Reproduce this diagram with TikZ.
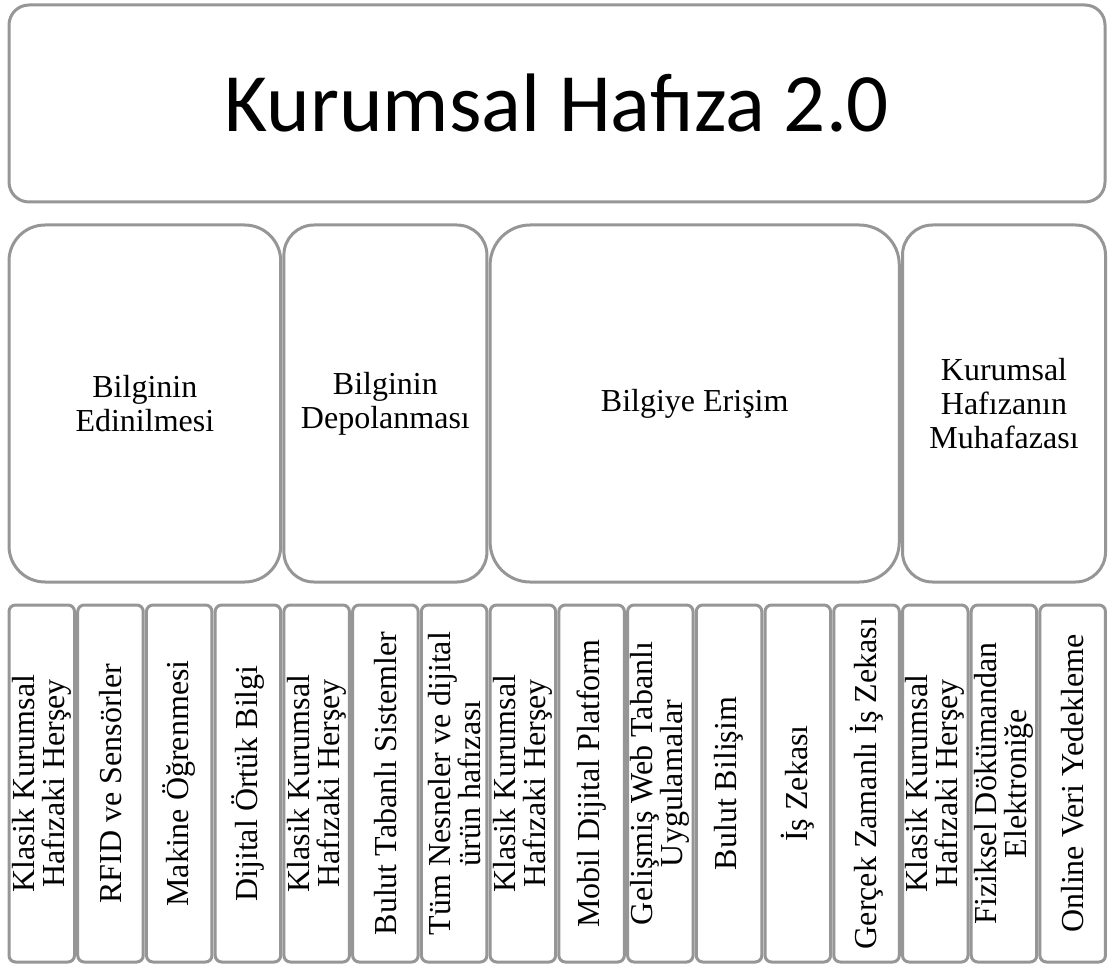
\documentclass[tikz,border=0pt]{standalone}
\usepackage{fontspec}
\setmainfont{Liberation Serif}
\newfontfamily\titlefont{Carlito}
\definecolor{framegray}{RGB}{150,150,150}

\begin{document}
\begin{tikzpicture}[x=1pt, y=-1pt,
  frame/.style={draw=framegray, line width=3pt, fill=white, inner sep=0pt, align=center},
  titlebox/.style={frame, rounded corners=20pt, minimum width=1096pt, minimum height=197pt,
    font=\titlefont\fontsize{83}{100}\selectfont},
  phasebox/.style={frame, minimum height=357pt, font=\fontsize{32}{34}\selectfont},
  itembox/.style={frame, rotate=90, rounded corners=6.5pt, minimum width=357pt, minimum height=65.5pt,
    font=\fontsize{32}{30}\selectfont}
]
\useasboundingbox (0,0) rectangle (1110,965);

% heading
\node[titlebox] (title) at (557,103.5) {Kurumsal Hafıza 2.0};

% the four phases
\node[phasebox, rounded corners=36pt, minimum width=271.7pt] (p1) at (144.85,403.5) {Bilginin\\Edinilmesi};
\node[phasebox, rounded corners=30pt, minimum width=203pt] (p2) at (385.4,403.5) {Bilginin\\Depolanması};
\node[phasebox, rounded corners=40pt, minimum width=409.2pt] (p3) at (694.7,403.5) {Bilgiye Erişim};
\node[phasebox, rounded corners=30pt, minimum width=203pt] (p4) at (1004,403.5) {Kurumsal\\Hafızanın\\Muhafazası};

% items under each phase
\node[itembox] (i1)  at (41.75,783.5)  {Klasik Kurumsal\\Hafızaki Herşey};
\node[itembox] (i2)  at (110.48,783.5) {RFID ve Sensörler};
\node[itembox] (i3)  at (179.21,783.5) {Makine Öğrenmesi};
\node[itembox] (i4)  at (247.94,783.5) {Dijital Örtük Bilgi};
\node[itembox] (i5)  at (316.67,783.5) {Klasik Kurumsal\\Hafızaki Herşey};
\node[itembox] (i6)  at (385.40,783.5) {Bulut Tabanlı Sistemler};
\node[itembox] (i7)  at (454.13,783.5) {Tüm Nesneler ve dijital\\ürün hafızası};
\node[itembox] (i8)  at (522.86,783.5) {Klasik Kurumsal\\Hafızaki Herşey};
\node[itembox] (i9)  at (591.59,783.5) {Mobil Dijital Platform};
\node[itembox] (i10) at (660.32,783.5) {Gelişmiş Web Tabanlı\\Uygulamalar};
\node[itembox] (i11) at (729.05,783.5) {Bulut Bilişim};
\node[itembox] (i12) at (797.78,783.5) {İş Zekası};
\node[itembox] (i13) at (866.51,783.5) {Gerçek Zamanlı İş Zekası};
\node[itembox] (i14) at (935.24,783.5) {Klasik Kurumsal\\Hafızaki Herşey};
\node[itembox] (i15) at (1003.97,783.5) {Fiziksel Dökümandan\\Elektroniğe};
\node[itembox] (i16) at (1072.70,783.5) {Online Veri Yedekleme};
\end{tikzpicture}
\end{document}
